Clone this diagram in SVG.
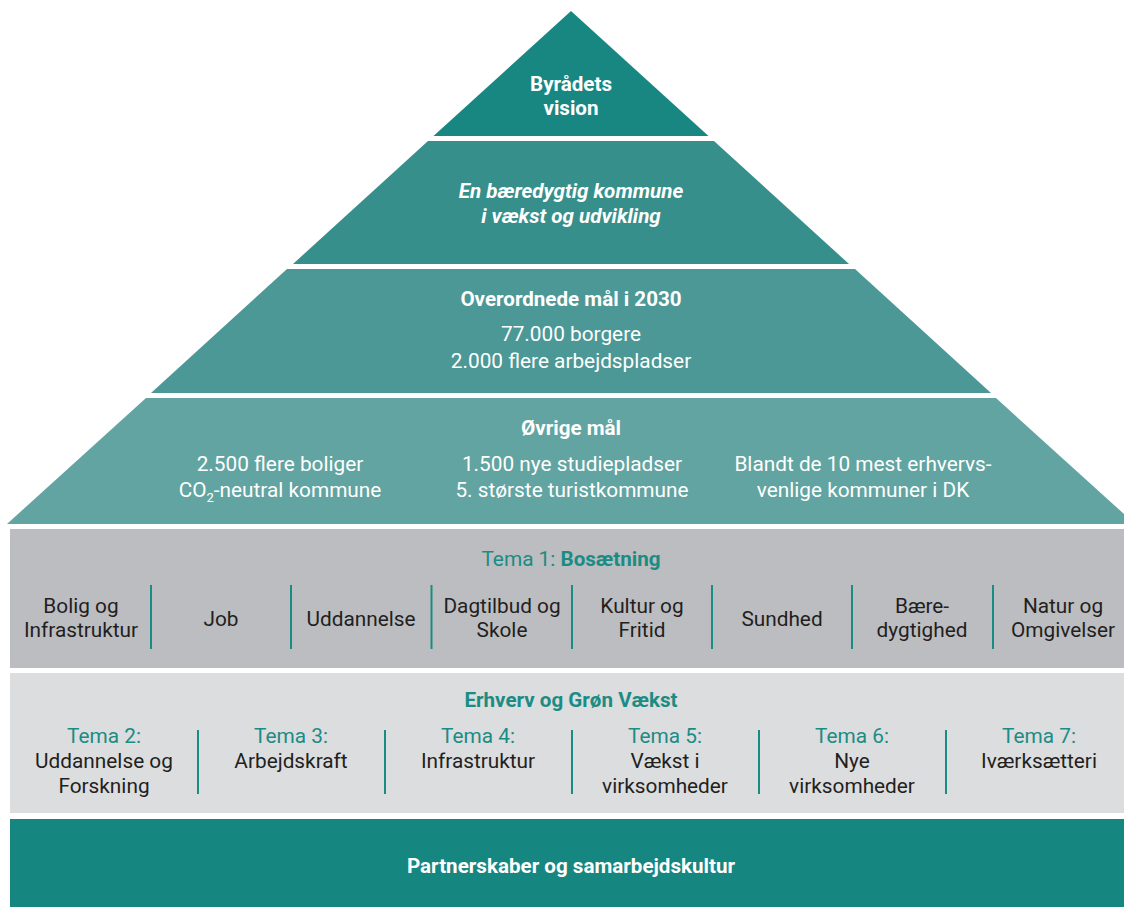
<svg xmlns="http://www.w3.org/2000/svg" width="1124" height="907" viewBox="0 0 1124 907">
<style>
text{font-family:Roboto,"Liberation Sans",Arial,sans-serif;font-size:20.8px;text-anchor:middle}
.w{fill:#ffffff}
.b{font-weight:bold;font-size:20.6px}
.bi{font-weight:bold;font-style:italic;font-size:20.6px}
.d{fill:#231f20}
.t{fill:#1b8c84}
.div{stroke:#1b8c84;stroke-width:2}
</style>
<rect x="0" y="0" width="1124" height="907" fill="#ffffff"/>
<g id="vision">
<polygon points="571,11 708.5,136 433.5,136" fill="#188782"/>
<text class="w b" x="571" y="91">Byrådets</text>
<text class="w b" x="571" y="115">vision</text>
</g>
<g id="baeredygtig">
<polygon points="428,141 714,141 849,264 293,264" fill="#368f8b"/>
<text class="w bi" x="571" y="198">En bæredygtig kommune</text>
<text class="w bi" x="571" y="223">i vækst og udvikling</text>
</g>
<g id="overordnede">
<polygon points="287,269 855,269 991,393 151,393" fill="#4b9896"/>
<text class="w b" x="571" y="306">Overordnede mål i 2030</text>
<text class="w" x="571" y="341">77.000 borgere</text>
<text class="w" x="571" y="368">2.000 flere arbejdspladser</text>
</g>
<g id="oevrige">
<polygon points="146,398 996,398 1135,524 7,524" fill="#62a4a1"/>
<text class="w b" x="571" y="435">Øvrige mål</text>
<text class="w" x="280" y="471">2.500 flere boliger</text>
<text class="w" x="280" y="497">CO<tspan font-size="13" dy="5">2</tspan><tspan dy="-5">-neutral kommune</tspan></text>
<text class="w" x="572" y="471">1.500 nye studiepladser</text>
<text class="w" x="572" y="497">5. største turistkommune</text>
<text class="w" x="863" y="471">Blandt de 10 mest erhvervs-</text>
<text class="w" x="863" y="497">venlige kommuner i DK</text>
</g>
<g id="tema1">
<rect x="10" y="529" width="1114" height="139" fill="#bcbdc0"/>
<text x="571" y="566"><tspan class="t">Tema 1: </tspan><tspan class="t b">Bosætning</tspan></text>
<text class="d" x="81" y="613">Bolig og</text>
<text class="d" x="81" y="637">Infrastruktur</text>
<text class="d" x="221" y="626">Job</text>
<text class="d" x="361" y="626">Uddannelse</text>
<text class="d" x="502" y="613">Dagtilbud og</text>
<text class="d" x="502" y="637">Skole</text>
<text class="d" x="642" y="613">Kultur og</text>
<text class="d" x="642" y="637">Fritid</text>
<text class="d" x="782" y="626">Sundhed</text>
<text class="d" x="922" y="613">Bære-</text>
<text class="d" x="922" y="637">dygtighed</text>
<text class="d" x="1063" y="613">Natur og</text>
<text class="d" x="1063" y="637">Omgivelser</text>
</g>
<g id="erhverv">
<rect x="10" y="673" width="1114" height="140" fill="#dcdddf"/>
<text class="t b" x="571" y="707">Erhverv og Grøn Vækst</text>
<text class="t" x="104" y="743">Tema 2:</text>
<text class="d" x="104" y="768">Uddannelse og</text>
<text class="d" x="104" y="793">Forskning</text>
<text class="t" x="291" y="743">Tema 3:</text>
<text class="d" x="291" y="768">Arbejdskraft</text>
<text class="t" x="478" y="743">Tema 4:</text>
<text class="d" x="478" y="768">Infrastruktur</text>
<text class="t" x="665" y="743">Tema 5:</text>
<text class="d" x="665" y="768">Vækst i</text>
<text class="d" x="665" y="793">virksomheder</text>
<text class="t" x="852" y="743">Tema 6:</text>
<text class="d" x="852" y="768">Nye</text>
<text class="d" x="852" y="793">virksomheder</text>
<text class="t" x="1039" y="743">Tema 7:</text>
<text class="d" x="1039" y="768">Iværksætteri</text>
</g>
<g id="partnerskaber">
<rect x="10" y="819" width="1114" height="88" fill="#168680"/>
<text class="w b" x="571" y="873">Partnerskaber og samarbejdskultur</text>
</g>
<g id="connectors">
<line class="div" x1="151" y1="585" x2="151" y2="649"/>
<line class="div" x1="291" y1="585" x2="291" y2="649"/>
<line class="div" x1="431.5" y1="585" x2="431.5" y2="649"/>
<line class="div" x1="572" y1="585" x2="572" y2="649"/>
<line class="div" x1="712" y1="585" x2="712" y2="649"/>
<line class="div" x1="852" y1="585" x2="852" y2="649"/>
<line class="div" x1="993" y1="585" x2="993" y2="649"/>
<line class="div" x1="198" y1="730" x2="198" y2="794"/>
<line class="div" x1="385" y1="730" x2="385" y2="794"/>
<line class="div" x1="572" y1="730" x2="572" y2="794"/>
<line class="div" x1="759" y1="730" x2="759" y2="794"/>
<line class="div" x1="946" y1="730" x2="946" y2="794"/>
</g>
</svg>
